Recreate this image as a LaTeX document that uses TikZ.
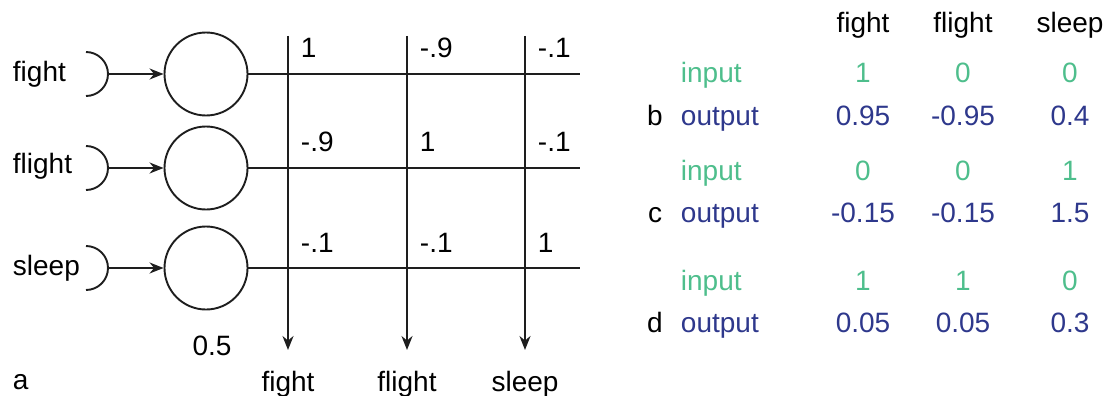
\documentclass[tikz,border=0pt]{standalone}
\usepackage{fontspec}
\setmainfont{Liberation Sans}
\usetikzlibrary{arrows.meta}
\definecolor{ingreen}{RGB}{78,190,140}
\definecolor{outblue}{RGB}{46,56,140}
\begin{document}
\begin{tikzpicture}[x=1pt,y=-1pt,
  line width=1.9pt, draw={rgb,255:red,30;green,30;blue,30},
  neuron/.style={circle,draw,minimum size=83pt,inner sep=0pt},
  txt/.style={font=\fontsize{28}{31}\selectfont,inner sep=0pt,text=black},
  lbl/.style={txt,anchor=west},
  arr/.style={-{Stealth[length=14pt,width=11pt]}},
  gin/.style={txt,text=ingreen,anchor=base},
  bout/.style={txt,text=outblue,anchor=base}]
\useasboundingbox (0,0) rectangle (1108,396);
% left labels
\node[lbl] (l1) at (12,74) {fight};
\node[lbl] (l2) at (12,166) {flight};
\node[lbl] (l3) at (12,268) {sleep};
% neurons
\foreach \i/\y in {1/74,2/168,3/268}{
  \node[neuron] (n\i) at (206,\y) {};
  \draw (86,\y+22) arc[start angle=90,end angle=-90,radius=22];
  \coordinate (r\i) at (108,\y);
  \draw[arr] (r\i) -- (n\i.west);
  \coordinate (h\i) at (580,\y);
  \draw (n\i.east) -- (h\i);
}
% vertical output lines
\foreach \j/\x in {1/288,2/407,3/525}{
  \coordinate (vt\j) at (\x,36);
  \coordinate (vb\j) at (\x,350);
  \draw[arr] (vt\j) -- (vb\j);
}
% weights
\node[lbl] (w11) at (300,48) {1};
\node[lbl] (w12) at (419,48) {-.9};
\node[lbl] (w13) at (537,48) {-.1};
\node[lbl] (w21) at (300,142) {-.9};
\node[lbl] (w22) at (419,142) {1};
\node[lbl] (w23) at (537,142) {-.1};
\node[lbl] (w31) at (300,243) {-.1};
\node[lbl] (w32) at (419,243) {-.1};
\node[lbl] (w33) at (537,243) {1};
% other left labels
\node[txt] (th) at (212,346) {0.5};
\node[lbl] (a) at (12,382) {a};
\node[txt] (o1) at (288,384) {fight};
\node[txt] (o2) at (407,384) {flight};
\node[txt] (o3) at (525,384) {sleep};
% right table
\node[txt,anchor=base] (c1) at (863,33) {fight};
\node[txt,anchor=base] (c2) at (963,33) {flight};
\node[txt,anchor=base] (c3) at (1070,33) {sleep};
\foreach \k/\yi/\yo/\va/\vb/\vc/\p/\q/\r in {b/82/125/1/0/0/0.95/-0.95/0.4, c/180/222/0/0/1/-0.15/-0.15/1.5, d/290/332/1/1/0/0.05/0.05/0.3}{
  \node[gin,anchor=base west] (in\k) at (680,\yi) {input};
  \node[gin] (ia\k) at (863,\yi) {\va};
  \node[gin] (ib\k) at (963,\yi) {\vb};
  \node[gin] (ic\k) at (1070,\yi) {\vc};
  \node[txt,anchor=base] (lt\k) at (655,\yo) {\k};
  \node[bout,anchor=base west] (out\k) at (680,\yo) {output};
  \node[bout] (oa\k) at (863,\yo) {\p};
  \node[bout] (ob\k) at (963,\yo) {\q};
  \node[bout] (oc\k) at (1070,\yo) {\r};
}
\end{tikzpicture}
\end{document}
